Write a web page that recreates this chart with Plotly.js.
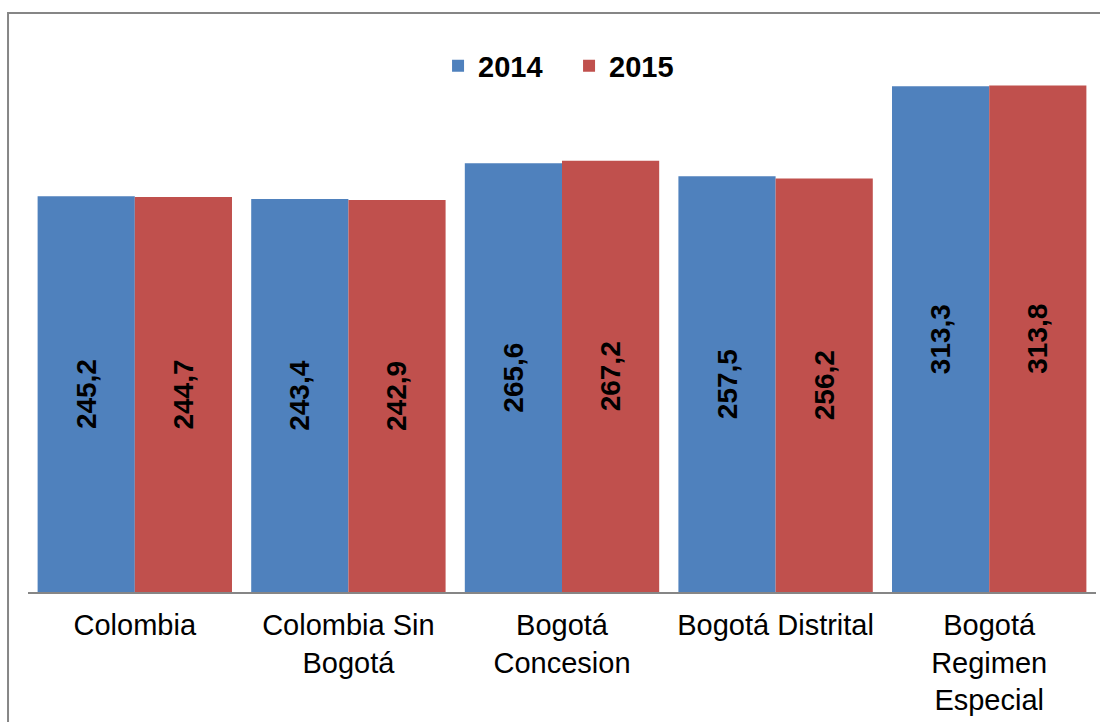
<!DOCTYPE html>
<html>
<head>
<meta charset="utf-8">
<script src="https://cdn.plot.ly/plotly-3.0.1.min.js"></script>
<style>html,body{margin:0;padding:0;background:#fff;}#chart{width:1100px;height:722px;}</style>
</head>
<body>
<div id="chart"></div>
<script>
const categories = ["Colombia", "Colombia Sin<br>Bogotá", "Bogotá<br>Concesion", "Bogotá Distrital", "Bogotá<br>Regimen<br>Especial"];
const values2014 = [245.2, 243.4, 265.6, 257.5, 313.3];
const values2015 = [244.7, 242.9, 267.2, 256.2, 313.8];
const seriesNames = ["2014", "2015"];

const fmt = v => v.toFixed(1).replace('.', ',');
const labelFont = {family: "Liberation Sans, Arial, sans-serif", size: 28, color: "#000", weight: "bold"};

const traces = [
  {type: "bar", name: seriesNames[0], x: categories, y: values2014, marker: {color: "#4F81BD"},
   text: values2014.map(fmt), textposition: "inside", textangle: -90, insidetextanchor: "middle",
   insidetextfont: labelFont, textfont: labelFont, hoverinfo: "skip"},
  {type: "bar", name: seriesNames[1], x: categories, y: values2015, marker: {color: "#C0504D"},
   text: values2015.map(fmt), textposition: "inside", textangle: -90, insidetextanchor: "middle",
   insidetextfont: labelFont, textfont: labelFont, hoverinfo: "skip"}
];

const layout = {
  width: 1100, height: 722,
  margin: {l: 28, r: 4, t: 27, b: 130},
  paper_bgcolor: "#fff", plot_bgcolor: "#fff",
  barmode: "group", bargap: 0.09, bargroupgap: 0,
  showlegend: true,
  legend: {orientation: "h", x: 0.5066, xanchor: "center", y: 0.931, yanchor: "middle",
    font: {family: "Liberation Sans, Arial, sans-serif", size: 29, color: "#000", weight: "bold"},
    itemwidth: 30, entrywidth: 86, entrywidthmode: "pixels", tracegroupgap: 0, bgcolor: "rgba(0,0,0,0)"},
  xaxis: {type: "category", showline: true, linecolor: "#868686", linewidth: 2, ticks: "",
    showgrid: false, zeroline: false, ticklabelstandoff: 6,
    tickfont: {family: "Liberation Sans, Arial, sans-serif", size: 29, color: "#000"}},
  yaxis: {range: [0, 350], visible: false, showgrid: false, zeroline: false, fixedrange: true},
  shapes: [
    {type: "rect", xref: "paper", yref: "paper", x0: -0.0187, x1: 1.2, y0: -0.4, y1: 1.0248,
     line: {color: "#868686", width: 2}, fillcolor: "rgba(0,0,0,0)", layer: "above"}
  ]
};

Plotly.newPlot("chart", traces, layout, {displayModeBar: false, staticPlot: true});
</script>
</body>
</html>
